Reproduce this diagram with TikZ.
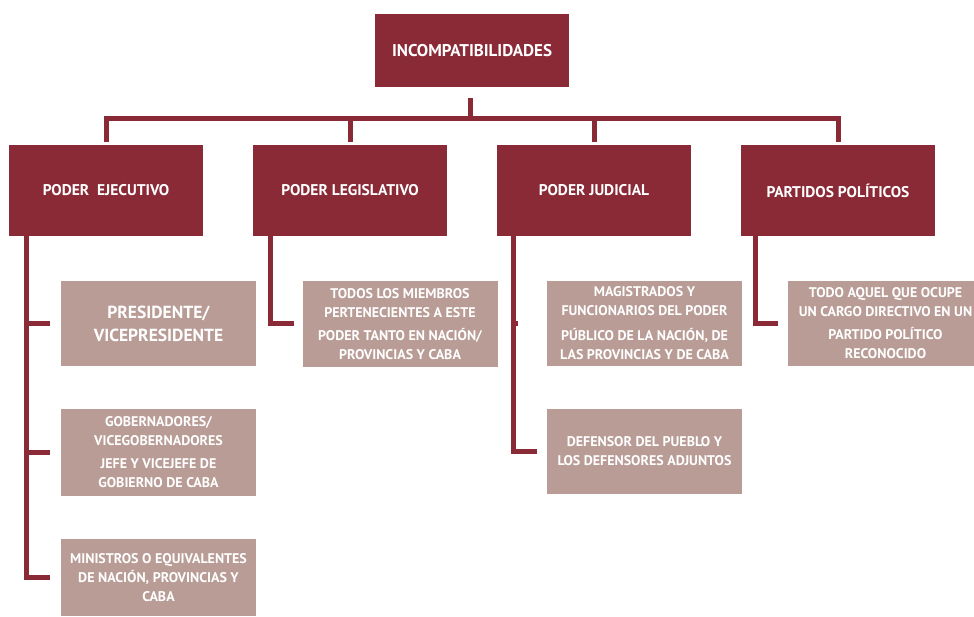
\documentclass[tikz,border=0pt]{standalone}
\usepackage{fontspec}
\setmainfont{PT Sans}
\definecolor{vino}{RGB}{139,42,55}
\definecolor{rosado}{RGB}{184,156,149}

\begin{document}
\begin{tikzpicture}[x=1pt, y=-1pt,
	titulo/.style={fill=vino, text=white, font=\bfseries\fontsize{15.5}{18}\selectfont, minimum width=194pt, inner sep=0pt},
	poder/.style={titulo, minimum height=91pt},
	cargo/.style={fill=rosado, text=white, font=\bfseries\fontsize{14}{19}\selectfont, align=center, minimum width=195pt, minimum height=85pt, inner sep=0pt},
	linea/.style={draw=vino, line width=5pt}]
	\useasboundingbox (0,0) rectangle (974,617);
	%%% Titulo
	\node[titulo, minimum height=73pt, font=\bfseries\fontsize{17}{20}\selectfont] (top) at (472,50.5) {INCOMPATIBILIDADES};
	%%% Poderes
	\node[poder] (eje) at (106,190.5) {PODER\ \ EJECUTIVO};
	\node[poder] (leg) at (350,190.5) {PODER LEGISLATIVO};
	\node[poder] (jud) at (594,190.5) {PODER JUDICIAL};
	\node[poder] (par) at (838,190.5) {PARTIDOS POLÍTICOS};
	%%% Cargos
	\node[cargo, font=\bfseries\fontsize{17.5}{23}\selectfont] (pres) at (158.5,323.5) {PRESIDENTE/\\VICEPRESIDENTE};
	\node[cargo, minimum height=87pt] (gob) at (158.5,452.5) {GOBERNADORES/\\VICEGOBERNADORES\\[4pt]JEFE Y VICEJEFE DE\\GOBIERNO DE CABA};
	\node[cargo, minimum height=77pt] (min) at (158.5,577.5) {MINISTROS O EQUIVALENTES\\DE NACIÓN, PROVINCIAS Y\\CABA};
	\node[cargo, minimum height=86pt] (todos) at (400,324) {TODOS LOS MIEMBROS\\PERTENECIENTES A ESTE\\[4pt]PODER TANTO EN NACIÓN/\\PROVINCIAS Y CABA};
	\node[cargo] (mag) at (644.5,323.5) {MAGISTRADOS Y\\FUNCIONARIOS DEL PODER\\[6pt]PÚBLICO DE LA NACIÓN, DE\\LAS PROVINCIAS Y DE CABA};
	\node[cargo] (def) at (644.5,451.5) {DEFENSOR DEL PUEBLO Y\\LOS DEFENSORES ADJUNTOS};
	\node[cargo] (aquel) at (885.5,323.5) {TODO AQUEL QUE OCUPE\\UN CARGO DIRECTIVO EN UN\\[4pt]PARTIDO POLÍTICO\\RECONOCIDO};
	%%% Barra superior
	\coordinate (bar) at (470,119);
	\draw[linea, shorten <=11pt] (top.south -| bar) -- (bar);
	\draw[linea, shorten <=3pt, shorten >=3pt] (eje.north) |- (bar) -| (par.north);
	\draw[linea, shorten >=3pt] (leg.north |- bar) -- (leg.north);
	\draw[linea, shorten >=3pt] (jud.north |- bar) -- (jud.north);
	%%% Ramas
	\coordinate (ejeL) at (26,236);
	\coordinate (legL) at (270,236);
	\coordinate (judL) at (513,236);
	\coordinate (parL) at (755,236);
	\draw[linea, shorten >=11pt] (ejeL) |- (pres.west);
	\draw[linea, shorten >=11pt] (ejeL) |- (gob.west);
	\draw[linea, shorten >=11pt] (ejeL) |- (min.west);
	\draw[linea, shorten >=8pt] (legL) |- (todos.west);
	\draw[linea, shorten >=29pt] (judL) |- (mag.west);
	\draw[linea, shorten >=10pt] (judL) |- (def.west);
	\draw[linea, shorten >=10pt] (parL) |- (aquel.west);
\end{tikzpicture}
\end{document}
